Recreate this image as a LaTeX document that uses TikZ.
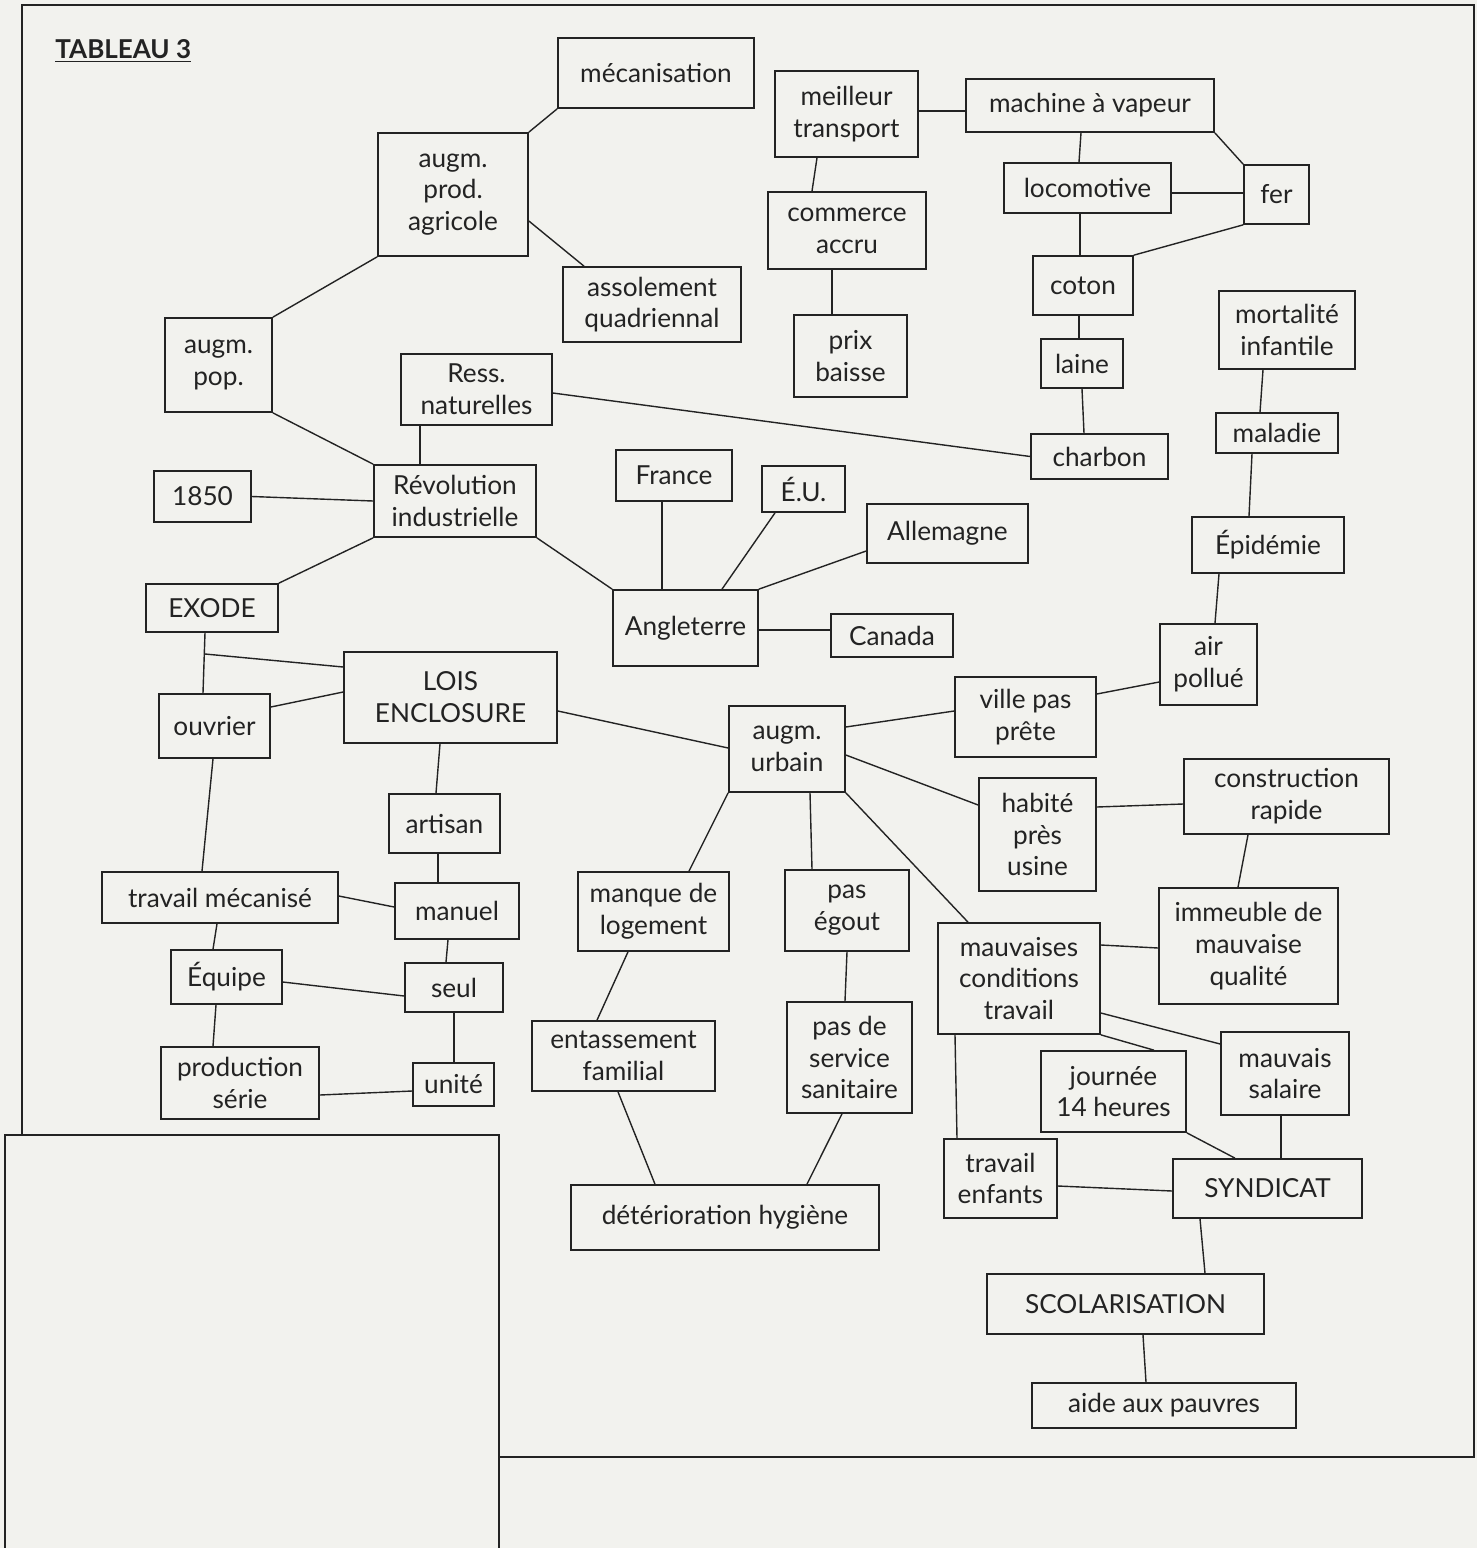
\documentclass[tikz,border=0pt]{standalone}
\usepackage{fontspec}
\setmainfont{Lato}
\usetikzlibrary{positioning, calc}
\definecolor{mapPaper}{RGB}{242,242,238}
\definecolor{mapInk}{RGB}{35,35,35}

\begin{document}
\begin{tikzpicture}[
    x=0.5pt, y=-0.5pt,
    box/.style={rectangle, draw=mapInk, line width=0.85pt, align=center, inner sep=0pt, text=mapInk, font=\fontsize{13.1}{15.9}\selectfont},
    sz/.style 2 args={minimum width=#1*0.5pt, minimum height=#2*0.5pt},
    link/.style={draw=mapInk, line width=0.7pt},
    frame/.style={draw=mapInk, line width=1.4pt}
]

% --- page and frames ---
\fill[mapPaper] (0,0) rectangle (1477,1548);
\useasboundingbox (0,0) rectangle (1477,1548);
\draw[frame] (22,1135) -- (22,5) -- (1474,5) -- (1474,1457) -- (499,1457);
\draw[frame] (5,1548) -- (5,1135) -- (499,1135) -- (499,1548);

\node[anchor=base west, inner sep=0pt, text=mapInk, font=\bfseries\fontsize{13}{16}\selectfont] (titre) at (55,58) {\underline{TABLEAU 3}};

% --- left: agriculture and revolution ---
\node[box, sz={150}{123}] (prod) at (453,194.5) {augm.\\prod.\\agricole};
\node[box, sz={196}{70}] (meca) at (656,73) {mécanisation};
\node[box, sz={178}{75}] (asso) at (652,304.5) {assolement\\quadriennal};
\node[box, sz={107}{94}] (pop) at (218.5,365) {augm.\\pop.};
\node[box, sz={151}{71}] (ress) at (476.5,389.5) {Ress.\\naturelles};
\node[box, sz={97}{51}] (an1850) at (202.5,496.5) {1850};
\node[box, sz={162}{72}] (revo) at (455,501) {Révolution\\industrielle};

% --- top middle: transport ---
\node[box, sz={143}{86}] (meil) at (846.5,114) {meilleur\\transport};
\node[box, sz={158}{77}] (comm) at (847,230.5) {commerce\\accru};
\node[box, sz={113}{82}] (prix) at (850.5,356) {prix\\baisse};

% --- top right: industry ---
\node[box, sz={248}{53}] (mach) at (1090,105.5) {machine à vapeur};
\node[box, sz={167}{50}] (loco) at (1087.5,188) {locomotive};
\node[box, sz={65}{59}] (fer) at (1276.5,194.5) {fer};
\node[box, sz={100}{59}] (coton) at (1083,285.5) {coton};
\node[box, sz={82}{49}] (laine) at (1082,363.5) {laine};
\node[box, sz={137}{45}] (charb) at (1099.5,456.5) {charbon};
\node[box, sz={136}{78}] (mort) at (1287,330) {mortalité\\infantile};
\node[box, sz={122}{40}] (mala) at (1277,433) {maladie};
\node[box, sz={152}{56}] (epid) at (1268,545) {Épidémie};
\node[box, sz={97}{81}] (air) at (1208.5,664.5) {air\\pollué};

% --- countries ---
\node[box, sz={116}{51}] (france) at (674,475.5) {France};
\node[box, sz={83}{46}] (eu) at (803.5,489) {É.U.};
\node[box, sz={161}{59}] (allem) at (947.5,533.5) {Allemagne};
\node[box, sz={145}{76}] (angl) at (685.5,628) {Angleterre};
\node[box, sz={122}{43}] (canada) at (892,635.5) {Canada};

% --- left column: work ---
\node[box, sz={132}{48}] (exode) at (212,608) {EXODE};
\node[box, sz={213}{91}] (lois) at (450.5,697.5) {LOIS\\ENCLOSURE};
\node[box, sz={111}{64}] (ouvr) at (214.5,726) {ouvrier};
\node[box, sz={111}{59}] (artis) at (444.5,823.5) {artisan};
\node[box, sz={236}{51}] (travm) at (220,897.5) {travail mécanisé};
\node[box, sz={124}{56}] (manu) at (457,911) {manuel};
\node[box, sz={111}{54}] (equi) at (226.5,977) {Équipe};
\node[box, sz={98}{49}] (seul) at (454,987.5) {seul};
\node[box, sz={158}{72}] (prods) at (240,1083) {production\\série};
\node[box, sz={81}{43}] (unite) at (453.5,1084.5) {unité};

% --- centre: city ---
\node[box, sz={116}{86}] (urb) at (787,749) {augm.\\urbain};
\node[box, sz={141}{80}] (ville) at (1025.5,717) {ville pas\\prête};
\node[box, sz={117}{113}] (habi) at (1037.5,834.5) {habité\\près\\usine};
\node[box, sz={205}{75}] (constr) at (1286.5,796.5) {construction\\rapide};
\node[box, sz={179}{116}] (immeu) at (1248.5,946) {immeuble de\\mauvaise\\qualité};
\node[box, sz={151}{79}] (manq) at (653.5,911.5) {manque de\\logement};
\node[box, sz={124}{81}] (egout) at (847,910.5) {pas\\égout};
\node[box, sz={162}{111}] (mauvc) at (1019,978.5) {mauvaises\\conditions\\travail};
\node[box, sz={125}{111}] (sani) at (849.5,1057.5) {pas de\\service\\sanitaire};
\node[box, sz={183}{70}] (entas) at (623.5,1056) {entassement\\familial};
\node[box, sz={145}{81}] (journ) at (1113.5,1091.5) {journée\\14 heures};
\node[box, sz={128}{83}] (salai) at (1285,1073.5) {mauvais\\salaire};
\node[box, sz={113}{79}] (enfan) at (1000.5,1178.5) {travail\\enfants};
\node[box, sz={189}{59}] (synd) at (1267.5,1188.5) {SYNDICAT};
\node[box, sz={308}{65}] (deter) at (725,1217.5) {détérioration hygiène};
\node[box, sz={277}{60}] (scol) at (1125.5,1304) {SCOLARISATION};
\node[box, sz={264}{45}] (aide) at (1164,1405.5) {aide aux pauvres};

% === liens ===
\draw[link] (prod.north east) -- (meca.south west);
\draw[link] (prod.east |- 0,221) -- (asso.north -| 584,0);
\draw[link] (prod.south west) -- (pop.north east);
\draw[link] (pop.south east) -- (revo.north west);
\draw[link] (an1850.east) -- (revo.west);
\draw[link] (ress.south -| 420,0) -- (revo.north -| 420,0);
\draw[link] (ress.east |- 0,393) -- (charb.west);

\draw[link] (meil.east |- 0,111) -- (mach.west |- 0,111);
\draw[link] (meil.south -| 817,0) -- (comm.north -| 812,0);
\draw[link] (comm.south -| 832,0) -- (prix.north -| 832,0);

\draw[link] (mach.south -| 1081,0) -- (loco.north -| 1079,0);
\draw[link] (mach.south east) -- (fer.north west);
\draw[link] (loco.east |- 0,193) -- (fer.west |- 0,193);
\draw[link] (loco.south -| 1080,0) -- (coton.north -| 1080,0);
\draw[link] (fer.south west) -- (coton.north east);
\draw[link] (coton.south -| 1079,0) -- (laine.north -| 1079,0);
\draw[link] (laine.south -| 1082,0) -- (charb.north -| 1084,0);
\draw[link] (mort.south -| 1263,0) -- (mala.north -| 1260,0);
\draw[link] (mala.south -| 1252,0) -- (epid.north -| 1249,0);
\draw[link] (epid.south -| 1219,0) -- (air.north -| 1215,0);

\draw[link] (revo.south east) -- (angl.north west);
\draw[link] (france.south -| 662,0) -- (angl.north -| 662,0);
\draw[link] (eu.south -| 775,0) -- (angl.north -| 722,0);
\draw[link] (allem.west |- 0,551) -- (angl.north east);
\draw[link] (angl.east |- 0,630) -- (canada.west |- 0,630);

% Exode -> ouvrier, branch to Lois
\coordinate (embr) at (205,654);
\draw[link] (revo.south west) -- (exode.north east);
\draw[link] (exode.south -| 205,0) -- (ouvr.north -| 203,0);
\draw[link] (embr) -- (lois.west |- 0,667);
\draw[link] (ouvr.east |- 0,707) -- (lois.west |- 0,692);
\draw[link] (lois.south -| 440,0) -- (artis.north -| 436,0);
\draw[link] (lois.east |- 0,711) -- (urb.west |- 0,748);

\draw[link] (ouvr.south -| 213,0) -- (travm.north -| 202,0);
\draw[link] (artis.south -| 438,0) -- (manu.north -| 438,0);
\draw[link] (travm.east |- 0,896) -- (manu.west |- 0,907);
\draw[link] (travm.south -| 217,0) -- (equi.north -| 213,0);
\draw[link] (manu.south -| 448,0) -- (seul.north -| 446,0);
\draw[link] (equi.east |- 0,982) -- (seul.west |- 0,996);
\draw[link] (equi.south -| 216,0) -- (prods.north -| 213,0);
\draw[link] (seul.south -| 454,0) -- (unite.north -| 454,0);
\draw[link] (prods.east |- 0,1095) -- (unite.west |- 0,1091);

% augm. urbain
\draw[link] (urb.east |- 0,727) -- (ville.west |- 0,711);
\draw[link] (urb.east |- 0,755) -- (habi.west |- 0,805);
\draw[link] (urb.south east) -- (mauvc.north -| 968,0);
\draw[link] (urb.south -| 810,0) -- (egout.north -| 812,0);
\draw[link] (urb.south west) -- (manq.north -| 689,0);
\draw[link] (manq.south -| 628,0) -- (entas.north -| 597,0);
\draw[link] (egout.south -| 847,0) -- (sani.north -| 845,0);
\draw[link] (entas.south -| 618,0) -- (deter.north -| 655,0);
\draw[link] (sani.south -| 842,0) -- (deter.north -| 807,0);

\draw[link] (ville.east |- 0,694) -- (air.west |- 0,682);
\draw[link] (habi.east |- 0,807) -- (constr.west |- 0,804);
\draw[link] (constr.south -| 1248,0) -- (immeu.north -| 1238,0);
\draw[link] (mauvc.east |- 0,945) -- (immeu.west |- 0,948);
\draw[link] (mauvc.east |- 0,1013) -- (salai.west |- 0,1044);
\draw[link] (mauvc.south east) -- (journ.north -| 1154,0);
\draw[link] (mauvc.south -| 955,0) -- (enfan.north -| 957,0);

% syndicat
\draw[link] (journ.south east) -- (synd.north -| 1235,0);
\draw[link] (salai.south -| 1281,0) -- (synd.north -| 1281,0);
\draw[link] (enfan.east |- 0,1186) -- (synd.west |- 0,1191);
\draw[link] (synd.south -| 1200,0) -- (scol.north -| 1205,0);
\draw[link] (scol.south -| 1143,0) -- (aide.north -| 1146,0);

\end{tikzpicture}
\end{document}
